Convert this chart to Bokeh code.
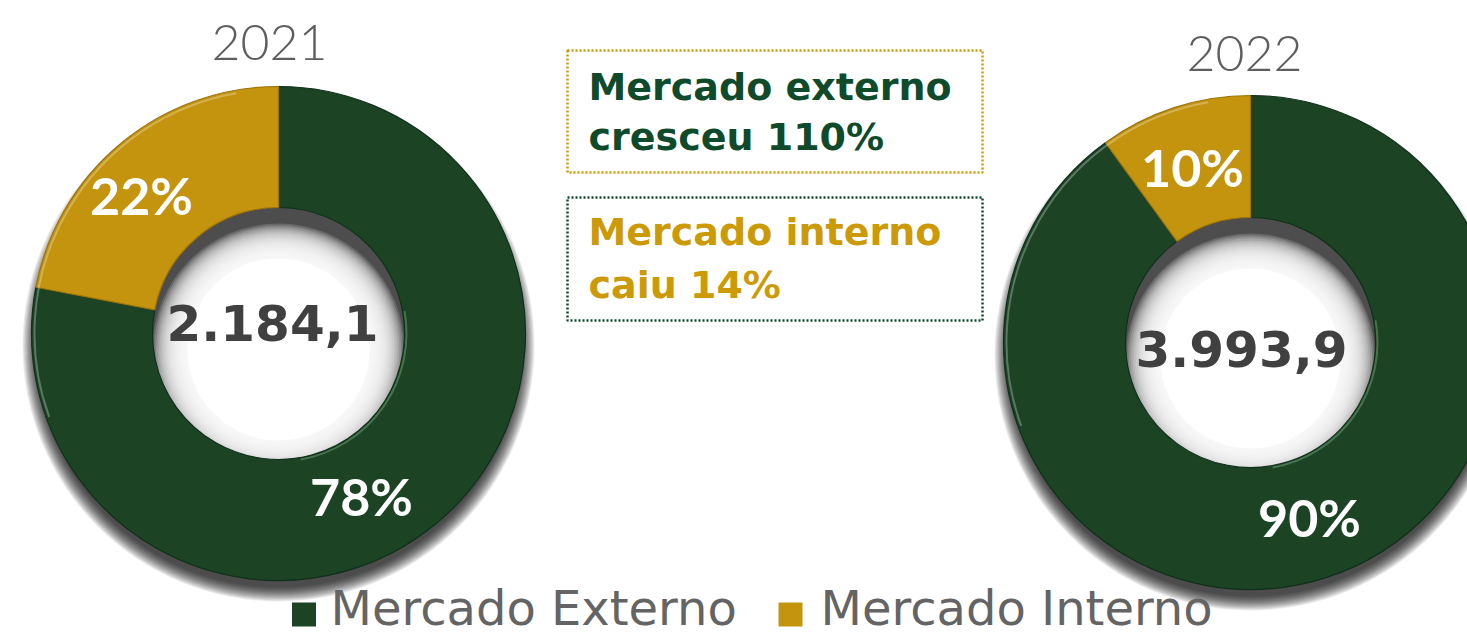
import math
from bokeh.plotting import figure
from bokeh.models import Range1d, ColumnDataSource
from bokeh.core.properties import value
from bokeh.embed import file_html
from bokeh.resources import INLINE

# ---------------- data ----------------
years = ["2021", "2022"]
total_labels = ["2.184,1", "3.993,9"]
categories = ["Mercado Externo", "Mercado Interno"]
share_externo = [78, 90]
share_interno = [22, 10]
notes = [["Mercado externo", "cresceu 110%"], ["Mercado interno", "caiu 14%"]]

GREEN = "#1b4324"
GOLD = "#c4940f"
GREEN_TXT = "#0f4a2b"
GOLD_TXT = "#cc9a06"
GRAY_TXT = "#5e5e5e"

W, H = 1467, 638
p = figure(width=W, height=H, x_range=Range1d(0, W), y_range=Range1d(0, H),
           output_backend="svg", toolbar_location=None, min_border=0,
           x_axis_type=None, y_axis_type=None)
p.grid.visible = False
p.outline_line_color = None
p.background_fill_color = "white"
p.border_fill_color = "white"


def Y(s):
    # screen-pixel row -> data y
    return H - s


def TY(base, fs):
    # baseline row -> anchor (compensates the renderer's baseline offset)
    return Y(base - 0.4 * fs)


# layout of the two donuts (screen pixel centres)
donuts = [dict(cx=278, cy=333, ro=247, ri=126),
          dict(cx=1250, cy=342, ro=247, ri=125)]
title_pos = [(269, 62), (1244, 73)]
total_pos = [(272, 342), (1241, 368)]
pct_pos = [[(361, 516), (141, 215)], [(1309, 537), (1192, 187)]]

for i, d in enumerate(donuts):
    cx, cy, ro, ri = d["cx"], d["cy"], d["ro"], d["ri"]
    # outer drop shadow (mostly below)
    N = 14
    blur = 15
    for k in range(N):
        p.circle(x=cx, y=Y(cy + 12), radius=ro + blur * (1 - k / N) - 6,
                 fill_color="black", fill_alpha=0.08, line_color=None)
    # inner shadow inside the hole
    p.circle(x=cx, y=Y(cy), radius=ri, fill_color="#4d4d4d", line_color=None)
    Ni = 20
    bl = 34
    off = 16
    for k in range(Ni + 1):
        p.circle(x=cx, y=Y(cy + off), radius=ri - bl * k / Ni,
                 fill_color="white", fill_alpha=0.16, line_color=None)
    p.circle(x=cx, y=Y(cy + off), radius=ri - bl - 1, fill_color="white", line_color=None)

    # wedges (clockwise from 12 o'clock)
    vals = [share_externo[i], share_interno[i]]
    tot = sum(vals)
    starts, ends = [], []
    cum = 0
    for v in vals:
        a0 = math.pi / 2 - 2 * math.pi * cum / tot
        cum += v
        a1 = math.pi / 2 - 2 * math.pi * cum / tot
        starts.append(a1)
        ends.append(a0)
    src = ColumnDataSource(dict(start=starts, end=ends, color=[GREEN, GOLD],
                                edge=["#10301a", "#9c7408"], cat=categories))
    p.annular_wedge(x=cx, y=Y(cy), inner_radius=ri, outer_radius=ro,
                    start_angle="start", end_angle="end", fill_color="color",
                    line_color="edge", line_width=1.2, source=src)
    # bevel highlights
    p.arc(x=cx, y=Y(cy), radius=ro - 3, start_angle=math.radians(100), end_angle=math.radians(200),
          line_color="white", line_alpha=0.28, line_width=2)
    p.arc(x=cx, y=Y(cy), radius=ri + 2, start_angle=math.radians(-80), end_angle=math.radians(10),
          line_color="#7fae82", line_alpha=0.45, line_width=2)

    # texts
    tx, ty = title_pos[i]
    p.text(x=[tx], y=[TY(ty, 50)], text=[years[i]], text_font=value("Lato Light"),
           text_font_size="50px", text_color=GRAY_TXT, text_align="center",
           text_baseline="alphabetic")
    tx, ty = total_pos[i]
    p.text(x=[tx], y=[TY(ty, 50)], text=[total_labels[i]], text_font=value("DejaVu Sans"),
           text_font_style="bold", text_font_size="50px", text_color="#404040",
           text_align="center", text_baseline="alphabetic")
    for j, v in enumerate(vals):
        px, py = pct_pos[i][j]
        p.text(x=[px], y=[TY(py, 52)], text=[f"{v}%"], text_font=value("Lato"),
               text_font_style="bold", text_font_size="52px", text_color="white",
               text_align="center", text_baseline="alphabetic")

# annotation boxes
boxes = [dict(l=567, r=982, t=50, b=172, border=GOLD_TXT, color=GREEN_TXT, base=[102, 152]),
         dict(l=567, r=982, t=197, b=320, border=GREEN_TXT, color=GOLD_TXT, base=[247, 300])]
for bx, lines in zip(boxes, notes):
    p.quad(left=bx["l"], right=bx["r"], top=Y(bx["t"]), bottom=Y(bx["b"]),
           fill_color=None, line_color=bx["border"], line_width=2.5, line_dash="2 2")
    for line, base in zip(lines, bx["base"]):
        p.text(x=[588], y=[TY(base, 38)], text=[line], text_font=value("DejaVu Sans"),
               text_font_style="bold", text_font_size="38px", text_color=bx["color"],
               text_align="left", text_baseline="alphabetic")

# legend
leg_sq = [303.5, 790]
leg_tx = [330, 820]
for c, sx, lx, col in zip(categories, leg_sq, leg_tx, [GREEN, GOLD]):
    p.rect(x=sx, y=Y(614), width=24, height=24, fill_color=col, line_color=None)
    p.text(x=[lx], y=[TY(627, 48)], text=[c], text_font=value("DejaVu Sans"),
           text_font_size="48px", text_color="#646464", text_align="left",
           text_baseline="alphabetic")

open("out.html", "w").write(file_html(p, INLINE))
